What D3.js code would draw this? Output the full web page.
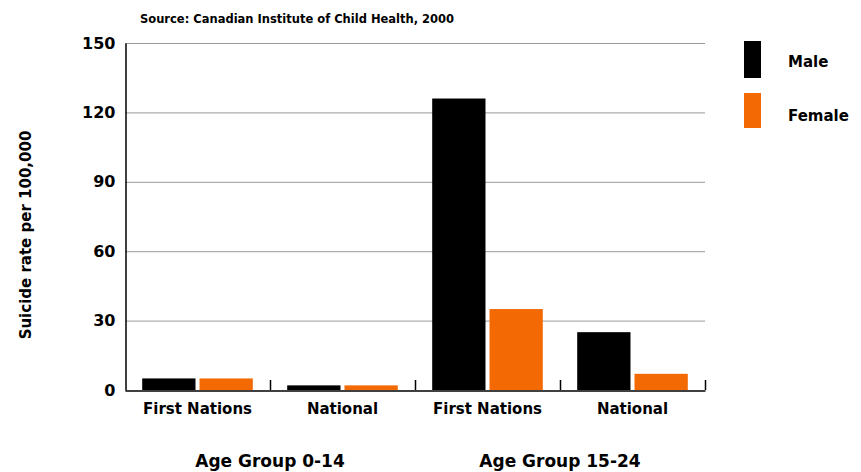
<!DOCTYPE html>
<html><head><meta charset="utf-8">
<script src="https://cdn.jsdelivr.net/npm/d3@7"></script>
<style>
body{margin:0;background:#fff;}
text{font-family:"DejaVu Sans",Verdana,sans-serif;font-weight:bold;fill:#000;}
</style></head>
<body><svg id="c" width="861" height="472"></svg>
<script>
const categories = ["First Nations","National","First Nations","National"];
const groups = ["Age Group 0-14","Age Group 15-24"];
const seriesNames = ["Male","Female"];
const maleValues = [5, 2, 126, 25];
const femaleValues = [5, 2, 35, 7];
const yTicks = [0,30,60,90,120,150];
const colors = ["#000000","#F36A05"];

const svg = d3.select("#c");
const m = {l:125, r:705, t:43, b:390};
const x = d3.scaleBand().domain(d3.range(categories.length)).range([m.l, m.r]).paddingInner(0).paddingOuter(0);
const xs = d3.scaleBand().domain(seriesNames).range([0, x.bandwidth()]).paddingInner(0.07).paddingOuter(0.3);
const y = d3.scaleLinear().domain([0,150]).range([m.b, m.t]);

// gridlines
svg.append("g").selectAll("line").data(yTicks.filter(d=>d>0)).join("line")
  .attr("x1", m.l).attr("x2", m.r).attr("y1", d=>y(d)+0.5).attr("y2", d=>y(d)+0.5)
  .attr("stroke","#999").attr("stroke-width",1);

// y axis
const ya = svg.append("g").attr("transform",`translate(${m.l+0.5},0)`)
  .call(d3.axisLeft(y).tickValues(yTicks).tickSize(0).tickPadding(10));
ya.select(".domain").attr("stroke","#000").attr("stroke-width",1.5);
ya.selectAll("text").attr("font-size",16).style("font-family","DejaVu Sans").style("font-weight","bold");

// bars
const data = categories.map((c,i)=>({i, vals:[maleValues[i], femaleValues[i]]}));
const gb = svg.append("g").selectAll("g").data(data).join("g")
  .attr("transform", d=>`translate(${x(d.i)},0)`);
gb.selectAll("rect").data(d=>d.vals.map((v,k)=>({v,k}))).join("rect")
  .attr("x", d=>xs(seriesNames[d.k])).attr("width", xs.bandwidth())
  .attr("y", d=>y(d.v)).attr("height", d=>y(0)-y(d.v))
  .attr("fill", d=>colors[d.k]);

// x axis
const xa = svg.append("g").attr("transform",`translate(0,${m.b+0.5})`)
  .call(d3.axisBottom(x).tickFormat(i=>categories[i]).tickSize(0).tickPadding(13));
xa.select(".domain").attr("stroke","#000").attr("stroke-width",1.5);
xa.selectAll("text").attr("font-size",15).style("font-family","DejaVu Sans").style("font-weight","bold");
// boundary ticks
const bounds = d3.range(categories.length+1).map(i=> i<categories.length ? x(i) : m.r);
svg.append("g").selectAll("line").data(bounds.slice(1)).join("line")
  .attr("x1",d=>d+0.5).attr("x2",d=>d+0.5).attr("y1",m.b-10).attr("y2",m.b)
  .attr("stroke","#000").attr("stroke-width",1.5);

// group labels
svg.append("g").selectAll("text").data(groups).join("text")
  .attr("x",(d,i)=> (x(i*2) + x(i*2+1) + x.bandwidth())/2)
  .attr("y",467).attr("text-anchor","middle").attr("font-size",17).text(d=>d);

// y title
svg.append("text").attr("transform","translate(31,235) rotate(-90)")
  .attr("text-anchor","middle").attr("font-size",15).text("Suicide rate per 100,000");

// source
svg.append("text").attr("x",140).attr("y",23).attr("font-size",11.5).text("Source: Canadian Institute of Child Health, 2000");

// legend
const lg = svg.append("g").selectAll("g").data(seriesNames).join("g")
  .attr("transform",(d,i)=>`translate(744,${i?93:41})`);
lg.append("rect").attr("width",17).attr("height",(d,i)=>i?35:37).attr("fill",(d,i)=>colors[i]);
lg.append("text").attr("x",44).attr("y",(d,i)=>i?28:26).attr("font-size",15).text(d=>d);
</script></body></html>
